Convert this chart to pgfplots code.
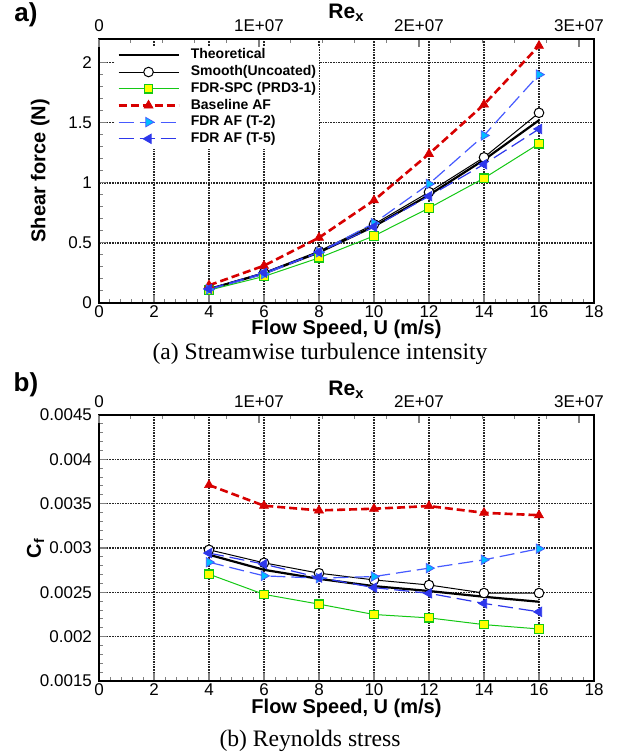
\documentclass[border=0pt]{standalone}
\usepackage{pgfplots}
\pgfplotsset{compat=1.18}
\usepackage{fontspec}
\setmainfont{Liberation Sans}
\newfontfamily\capfont{Liberation Serif}

\definecolor{spcgreen}{RGB}{20,200,20}
\definecolor{spcyellow}{RGB}{255,255,0}
\definecolor{basered}{RGB}{215,0,0}
\definecolor{ttwoblue}{RGB}{70,90,255}
\definecolor{ttwocyan}{RGB}{0,190,255}
\definecolor{tfiveblue}{RGB}{45,55,235}

\pgfplotsset{
  panel/.style={
    scale only axis, width=247.5pt, anchor=south west,
    xmin=0, xmax=18, xtick={0,2,...,18}, minor x tick num=4, minor y tick num=4,
    xtick pos=bottom, ytick pos=left, tick align=inside,
    major tick length=4pt, minor tick length=2pt,
    major tick style={line width=0.6pt}, minor tick style={line width=0.5pt},
    grid=major, major grid style={black!85, dash pattern=on 0.8pt off 0.5pt, line width=0.75pt},
    axis line style={line width=1pt},
    tick label style={font=\fontsize{8.5}{10}\selectfont},
    xticklabel style={yshift=2pt},
    /pgf/number format/assume math mode=true,
    xlabel={Flow Speed, U (m/s)},
    label style={font=\fontsize{10}{12}\selectfont\bfseries},
    xlabel style={at={(axis description cs:0.5,-0.101)}, anchor=center},
  },
  retop/.style={
    scale only axis, width=247.5pt, anchor=south west,
    xmin=0, xmax=3.094e7, ymin=0, ymax=1,
    axis x line*=top, axis y line=none,
    xtick={0,1e7,2e7,3e7}, xticklabels={0,1E+07,2E+07,3E+07},
    scaled x ticks=false, minor x tick num=4, tick align=inside,
    major tick length=4pt, minor tick length=2pt,
    major tick style={line width=0.6pt}, minor tick style={line width=0.5pt},
    axis line style={line width=1pt},
    tick label style={font=\fontsize{8.5}{10}\selectfont},
    xlabel={Re\textsubscript{x}},
    label style={font=\fontsize{10.5}{12}\selectfont\bfseries},
    xlabel style={at={(axis description cs:0.5,1.096)}, anchor=center},
  },
  theo/.style={black, line width=1.1pt, mark=none},
  smooth/.style={black, line width=0.5pt, mark=*, mark size=2.4pt,
    mark options={fill=white, draw=black, solid, line width=0.5pt}},
  spc/.style={spcgreen, line width=0.5pt, mark=square*, mark size=2.1pt,
    mark options={fill=spcyellow, draw=spcgreen, solid, line width=0.6pt}},
  base/.style={basered, line width=1.3pt, dash pattern=on 4pt off 2pt,
    mark=triangle*, mark size=2.6pt, mark options={fill=basered, solid, line width=0.3pt}},
  ttwo/.style={ttwoblue, line width=0.6pt, dash pattern=on 7.5pt off 3pt,
    mark=triangle*, mark size=2.7pt,
    mark options={rotate=-90, fill=ttwocyan, draw=ttwoblue, solid, line width=0.4pt}},
  tfive/.style={tfiveblue, line width=0.6pt, dash pattern=on 7.5pt off 3pt,
    mark=triangle*, mark size=2.7pt,
    mark options={rotate=90, fill=tfiveblue, draw=tfiveblue, solid, line width=0.4pt}},
}

\begin{document}
\begin{tikzpicture}
\useasboundingbox (0,0) rectangle (313.5pt,-378pt);

% ---- panel a: shear force ----
\begin{axis}[panel, at={(49.5pt,-151.5pt)}, height=132.25pt,
  ymin=0, ymax=2.2, ytick={0,0.5,1,1.5,2},
  ylabel={Shear force (N)},
  ylabel style={at={(axis description cs:-0.119,0.5)}, anchor=center},
  legend cell align=left,
  legend image code/.code={\draw[mark repeat=2,mark phase=2] plot coordinates {(0pt,0pt) (15pt,0pt) (30pt,0pt)};},
  legend style={at={(0.032,0.975)}, anchor=north west, draw=none, fill=white,
    inner sep=1pt, row sep=0.55pt,
    font=\fontsize{7}{8}\selectfont\bfseries,
    nodes={inner sep=0.5pt, text height=5.2pt, text depth=1.6pt},
    /tikz/every odd column/.append style={column sep=5pt}},
]
\addplot[theo] coordinates {(4,0.1160) (6,0.2459) (8,0.4209) (10,0.6374) (12,0.8982) (14,1.1909) (16,1.5199)};
\addplot[smooth] coordinates {(4,0.1182) (6,0.2529) (8,0.4311) (10,0.6547) (12,0.9224) (14,1.2113) (16,1.5821)};
\addplot[spc] coordinates {(4,0.1073) (6,0.2211) (8,0.3757) (10,0.5580) (12,0.7900) (14,1.0383) (16,1.3250)};
\addplot[base] coordinates {(4,0.1472) (6,0.3104) (8,0.5435) (10,0.8539) (12,1.2403) (14,1.6512) (16,2.1395)};
\addplot[ttwo] coordinates {(4,0.1127) (6,0.2398) (8,0.4222) (10,0.6641) (12,0.9903) (14,1.3936) (16,1.8996)};
\addplot[tfive] coordinates {(4,0.1168) (6,0.2516) (8,0.4233) (10,0.6331) (12,0.8889) (14,1.1544) (16,1.4475)};
\legend{Theoretical, Smooth(Uncoated), FDR-SPC (PRD3-1), Baseline AF, FDR AF (T-2), FDR AF (T-5)}
\end{axis}
\begin{axis}[retop, at={(49.5pt,-151.5pt)}, height=132.25pt]
\end{axis}

% ---- panel b: skin friction coefficient ----
\begin{axis}[panel, at={(49.5pt,-340.5pt)}, height=133pt,
  ymin=0.0015, ymax=0.0045, scaled y ticks=false,
  ytick={0.0015,0.002,0.0025,0.003,0.0035,0.004,0.0045},
  yticklabels={0.0015,0.002,0.0025,0.003,0.0035,0.004,0.0045},
  ylabel={C\textsubscript{f}},
  ylabel style={at={(axis description cs:-0.128,0.5)}, anchor=center},
]
\addplot[theo] coordinates {(4,0.002924) (6,0.002754) (8,0.002652) (10,0.002570) (12,0.002515) (14,0.002450) (16,0.002394)};
\addplot[smooth] coordinates {(4,0.002980) (6,0.002833) (8,0.002716) (10,0.002640) (12,0.002583) (14,0.002492) (16,0.002492)};
\addplot[spc] coordinates {(4,0.002705) (6,0.002477) (8,0.002367) (10,0.002250) (12,0.002212) (14,0.002136) (16,0.002087)};
\addplot[base] coordinates {(4,0.003710) (6,0.003477) (8,0.003424) (10,0.003443) (12,0.003473) (14,0.003397) (16,0.003370)};
\addplot[ttwo] coordinates {(4,0.002840) (6,0.002686) (8,0.002660) (10,0.002678) (12,0.002773) (14,0.002867) (16,0.002992)};
\addplot[tfive] coordinates {(4,0.002943) (6,0.002818) (8,0.002667) (10,0.002553) (12,0.002489) (14,0.002375) (16,0.002280)};
\end{axis}
\begin{axis}[retop, at={(49.5pt,-340.5pt)}, height=133pt]
\end{axis}

% panel tags and captions
\node[font=\fontsize{13}{15}\selectfont\bfseries] at (13pt,-7.5pt) {a)};
\node[font=\fontsize{13}{15}\selectfont\bfseries] at (13pt,-192.5pt) {b)};
\node[font=\capfont\fontsize{11.8}{14}\selectfont] at (160pt,-177pt) {(a) Streamwise turbulence intensity};
\node[font=\capfont\fontsize{11.8}{14}\selectfont] at (155pt,-370.5pt) {(b) Reynolds stress};
\end{tikzpicture}
\end{document}
